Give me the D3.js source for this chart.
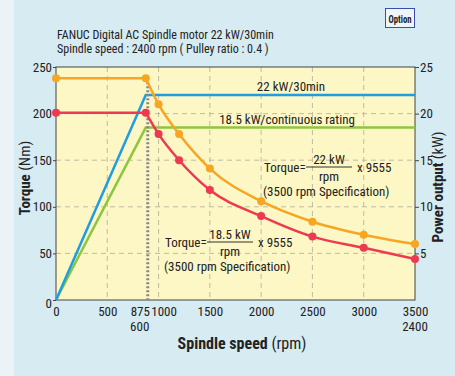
<!DOCTYPE html>
<html><head><meta charset="utf-8">
<script src="https://cdn.jsdelivr.net/npm/d3@7"></script>
<style>
html,body{margin:0;padding:0;background:#d7ebf3;}
svg{display:block;}
text{font-family:"Liberation Sans Narrow","Arial Narrow","Roboto Condensed","Liberation Sans",sans-serif;fill:#222;}
</style></head><body>
<svg id="c" width="455" height="376"></svg>
<script>
// ---- data ----
const speedTicks = [0, 500, 875, 1000, 1500, 2000, 2500, 3000, 3500];
const speedTicks2 = [{at: 875, label: "600"}, {at: 3500, label: "2400"}];
const gridSpeeds = [500, 1000, 1500, 2000, 2500, 3000];
const torqueTicks = [0, 50, 100, 150, 200, 250];
const powerTicks = [5, 10, 15, 20, 25];
const rpm = [0, 875, 1000, 1200, 1500, 2000, 2500, 3000, 3500];
const torque30min = [238, 238, 210, 178, 141, 106, 84, 70, 60];
const torqueCont = [201, 201, 178, 150, 118, 90, 68, 56, 44];
const powerRpm = [0, 875, 3500];
const power30min = [0, 22, 22];
const powerCont = [0, 18.5, 18.5];
const baseSpeed = 875;

const svg = d3.select("#c");
svg.append("rect").attr("x",0).attr("y",0).attr("width",14).attr("height",376).attr("fill","#eaf4f7");

const L=56,R=415,T=67,B=300;
const x = d3.scaleLinear().domain([0,3500]).range([L,R]);
const yT = d3.scaleLinear().domain([0,250]).range([B,T]);
const yP = d3.scaleLinear().domain([0,25]).range([B,T]);

svg.append("rect").attr("x",L).attr("y",T).attr("width",R-L).attr("height",B-T).attr("fill","#fcf7c5");

// grid
const g = svg.append("g").attr("stroke","#b9b5a0").attr("stroke-width",0.9).attr("stroke-dasharray","5,4");
gridSpeeds.forEach(s=>g.append("line").attr("x1",x(s)).attr("x2",x(s)).attr("y1",T).attr("y2",B));
torqueTicks.filter(t=>t>0&&t<250).forEach(t=>g.append("line").attr("x1",L).attr("x2",R).attr("y1",yT(t)).attr("y2",yT(t)));

// frame
svg.append("rect").attr("x",L).attr("y",T).attr("width",R-L).attr("height",B-T).attr("fill","none").attr("stroke","#444").attr("stroke-width",1);

// axes
const fmt = d3.format("d");
const axL = d3.axisLeft(yT).tickValues(torqueTicks).tickFormat(fmt).tickSize(3).tickPadding(1);
const gl = svg.append("g").attr("transform",`translate(${L},0)`).call(axL);
const axRt = d3.axisRight(yP).tickValues(powerTicks).tickFormat(fmt).tickSize(4).tickPadding(1);
const gr = svg.append("g").attr("transform",`translate(${R},0)`).call(axRt);
const axB = d3.axisBottom(x).tickValues(speedTicks).tickFormat(fmt).tickSize(0).tickPadding(7);
const gb = svg.append("g").attr("transform",`translate(0,${B})`).call(axB);
[gl,gr,gb].forEach(a=>{a.select(".domain").remove();a.selectAll("line").attr("stroke","#444");a.selectAll("text").attr("font-size",13).attr("fill","#222").style("font-family",null);});
gl.selectAll(".tick").filter(d=>d===0).select("text").attr("dy","0.6em");
gb.selectAll(".tick").filter(d=>d===875).select("text").attr("dx","-6");
gb.selectAll(".tick").filter(d=>d===1000).select("text").attr("dx","5");
speedTicks2.forEach(d=>svg.append("text").attr("x",x(d.at)+(d.at===875?-6:0)).attr("y",B+31).attr("text-anchor","middle").attr("font-size",13).text(d.label));

// power lines
const lp = d3.line().x((d,i)=>x(powerRpm[i])).y(d=>yP(d));
svg.append("path").attr("d",lp(powerCont)).attr("fill","none").attr("stroke","#8dc63f").attr("stroke-width",2.5);
svg.append("path").attr("d",lp(power30min)).attr("fill","none").attr("stroke","#1f9de2").attr("stroke-width",2.5);

// dotted base-speed line
svg.append("line").attr("x1",x(baseSpeed)+2).attr("x2",x(baseSpeed)+2).attr("y1",yT(torque30min[1])).attr("y2",B)
  .attr("stroke","#888").attr("stroke-width",3).attr("stroke-dasharray","2,2");

function torqueCurve(vals,color){
  const pts = rpm.map((r,i)=>[x(r),yT(vals[i])]);
  const flat = d3.line().curve(d3.curveLinear)(pts.slice(0,2));
  const curve = d3.line().curve(d3.curveMonotoneX)(pts.slice(1));
  svg.append("path").attr("d",flat+curve.replace(/^M/,"L")).attr("fill","none").attr("stroke",color).attr("stroke-width",2.5);
  svg.append("g").selectAll("circle").data(pts).join("circle").attr("cx",d=>d[0]).attr("cy",d=>d[1]).attr("r",4).attr("fill",color);
}
torqueCurve(torque30min,"#f6a623");
torqueCurve(torqueCont,"#ee3a50");

// annotations
function t(xp,yp,s,fs,anchor){return svg.append("text").attr("x",xp).attr("y",yp).attr("font-size",fs||13).attr("text-anchor",anchor||"start").text(s);}
t(291,91,"22 kW/30min",13,"middle");
t(287,124,"18.5  kW/continuous rating",13,"middle");

function formula(x0,yc,num,fracW){
  t(x0,yc+5,"Torque=",13);
  const fx = x0+42;
  svg.append("line").attr("x1",fx).attr("x2",fx+fracW).attr("y1",yc).attr("y2",yc).attr("stroke","#333").attr("stroke-width",1);
  t(fx+fracW/2,yc-3,num,13,"middle");
  t(fx+fracW/2,yc+14,"rpm",13,"middle");
  t(fx+fracW+5,yc+5,"x 9555",13);
  t(x0-1,yc+29,"(3500 rpm Specification)",13);
}
formula(264,167,"22 kW",46);
formula(165,242,"18.5 kW",46);

// title
t(57,39,"FANUC Digital AC Spindle motor 22 kW/30min",12);
t(57,53,"Spindle speed : 2400 rpm ( Pulley ratio : 0.4 )",12);

// option box
svg.append("rect").attr("x",385.5).attr("y",8.5).attr("width",29).attr("height",19).attr("fill","#eef5fb").attr("stroke","#3b4fa8").attr("stroke-width",1);
t(400,22.5,"Option",11,"middle").attr("fill","#2b3f9e").attr("font-weight","bold").attr("textLength",23).attr("lengthAdjust","spacingAndGlyphs");

// axis titles
const yt = svg.append("text").attr("transform","translate(30,178) rotate(-90)").attr("text-anchor","middle").attr("font-size",15);
yt.append("tspan").attr("font-weight","bold").text("Torque ");
yt.append("tspan").text("(Nm)");
const pt = svg.append("text").attr("transform","translate(443,187) rotate(-90)").attr("text-anchor","middle").attr("font-size",15);
pt.append("tspan").attr("font-weight","bold").text("Power output ");
pt.append("tspan").text("(kW)");
const xt = svg.append("text").attr("x",242).attr("y",349).attr("text-anchor","middle").attr("font-size",16);
xt.append("tspan").attr("font-weight","bold").text("Spindle speed ");
xt.append("tspan").text("(rpm)");
</script></body></html>
